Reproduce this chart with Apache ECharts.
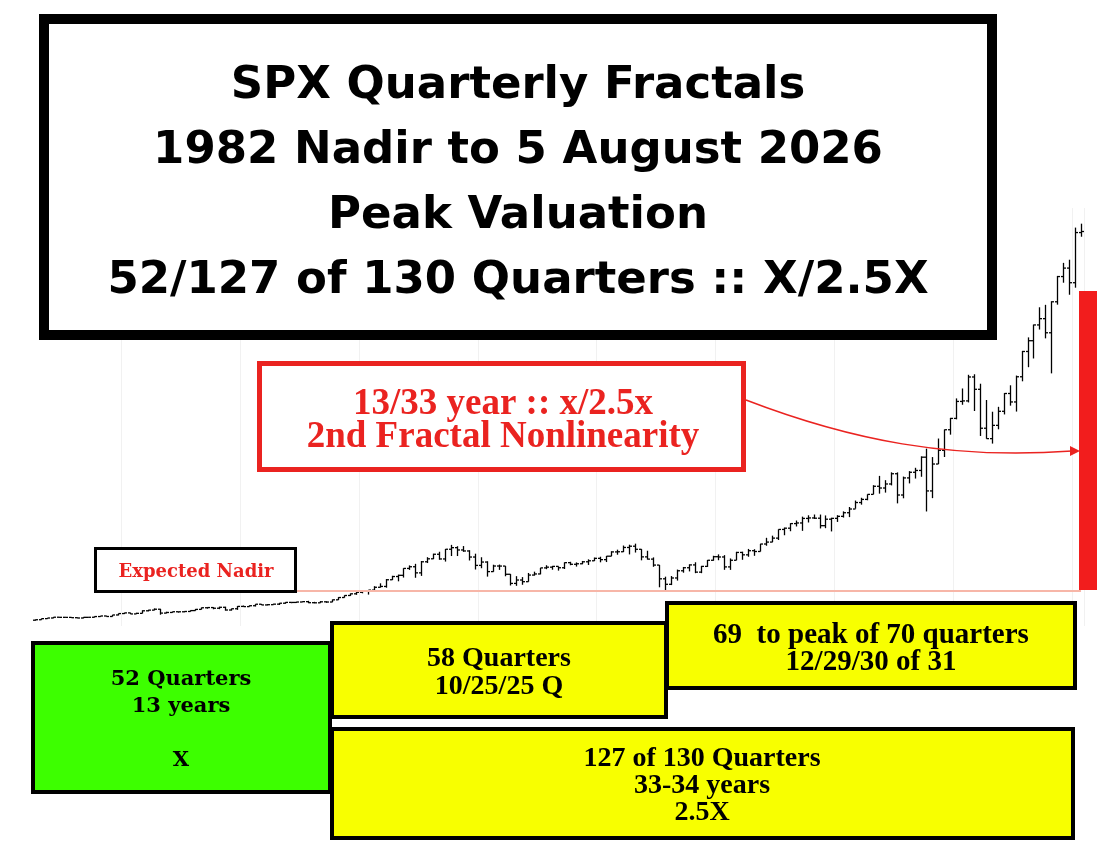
<!DOCTYPE html>
<html lang="en">
  <head>
    <meta charset="UTF-8" />
    <title>SPX Quarterly Fractals</title>
    <script src="https://cdn.jsdelivr.net/npm/echarts@6.0.0/dist/echarts.min.js"></script>
    <style>
      body { margin: 0; background: #fff; }
    </style>
  </head>
  <body>
    <div id="main" style="width: 1120px; height: 846px"></div>
    <script type="text/javascript">
      // quarterly bars, 1982 Q3 .. 2026 Q3 (one row per year)
      const firstYear = 1982;
      const firstQ = 3;

      const opens = [
        111, 120,
        141, 153, 168, 166,   165, 159, 153, 166,   167, 181, 192, 182,   211, 238, 251, 231,
        242, 291, 304, 321,   247, 259, 273, 272,   278, 295, 318, 349,   353, 340, 358, 306,
        330, 375, 371, 388,   417, 403, 408, 418,   436, 452, 451, 459,   466, 446, 444, 463,
        459, 501, 545, 584,   616, 645, 671, 687,   741, 757, 885, 947,   970, 1102, 1134, 1017,
        1229, 1286, 1373, 1283,   1469, 1499, 1455, 1436,   1320, 1160, 1224, 1041,   1148, 1147, 990, 815,
        880, 848, 975, 996,   1112, 1126, 1141, 1115,   1212, 1181, 1191, 1229,   1248, 1295, 1270, 1336,
        1418, 1421, 1503, 1527,   1468, 1323, 1280, 1166,   903, 798, 919, 1057,   1115, 1169, 1031, 1141,
        1258, 1326, 1321, 1131,   1258, 1408, 1362, 1441,   1426, 1569, 1606, 1682,   1848, 1872, 1960, 1972,
        2059, 2068, 2063, 1920,   2044, 2060, 2099, 2168,   2239, 2363, 2423, 2519,   2674, 2641, 2718, 2914,
        2507, 2834, 2942, 2977,   3231, 2585, 3100, 3363,   3756, 3973, 4298, 4308,   4766, 4530, 3785, 3586,
        3840, 4109, 4450, 4288,   4770, 5254, 5460, 5762,   5882, 5612, 6205, 6688,
        6850, 6570, 7530
      ];
      const highs = [
        124, 143,
        154, 171, 172, 173,   170, 163, 169, 170,   184, 192, 196, 212,   239, 254, 254, 254,
        301, 310, 337, 328,   273, 274, 275, 284,   300, 326, 354, 360,   360, 370, 369, 333,
        381, 392, 396, 418,   421, 419, 426, 441,   456, 454, 463, 471,   482, 463, 477, 473,
        507, 552, 587, 623,   664, 681, 690, 762,   817, 899, 961, 983,   1106, 1160, 1190, 1244,
        1317, 1384, 1421, 1474,   1553, 1527, 1530, 1450,   1384, 1316, 1239, 1173,   1176, 1147, 994, 954,
        936, 1015, 1040, 1112,   1163, 1150, 1141, 1218,   1229, 1217, 1245, 1276,   1310, 1326, 1340, 1431,
        1461, 1540, 1556, 1576,   1472, 1440, 1313, 1167,   944, 956, 1080, 1130,   1180, 1220, 1150, 1263,
        1344, 1371, 1356, 1293,   1420, 1422, 1475, 1470,   1573, 1688, 1729, 1850,   1884, 1968, 2019, 2093,
        2119, 2134, 2133, 2116,   2072, 2121, 2194, 2277,   2401, 2454, 2520, 2695,   2873, 2791, 2941, 2940,
        2860, 2964, 3028, 3247,   3394, 3233, 3588, 3760,   3983, 4356, 4546, 4808,   4818, 4637, 4325, 4101,
        4195, 4458, 4607, 4793,   5265, 5524, 5768, 6100,   6147, 6215, 6700, 6950,
        7010, 7625, 7700
      ];
      const lows = [
        102, 119,
        138, 149, 159, 160,   154, 149, 147, 160,   163, 176, 181, 180,   203, 229, 228, 230,
        242, 281, 301, 216,   243, 254, 256, 263,   275, 293, 316, 332,   320, 322, 294, 295,
        309, 367, 371, 374,   401, 395, 408, 402,   426, 436, 442, 457,   438, 435, 443, 444,
        457, 499, 544, 577,   597, 626, 601, 686,   737, 733, 881, 855,   927, 1074, 923, 959,
        1205, 1281, 1268, 1233,   1339, 1339, 1420, 1254,   1081, 1106, 945, 1038,   1074, 952, 775, 769,
        789, 847, 965, 990,   1087, 1077, 1060, 1091,   1163, 1137, 1183, 1168,   1245, 1219, 1224, 1336,
        1364, 1416, 1370, 1406,   1257, 1272, 1133, 741,   667, 783, 869, 1020,   1045, 1011, 1011, 1131,
        1250, 1259, 1075, 1074,   1259, 1267, 1325, 1343,   1426, 1536, 1604, 1646,   1737, 1814, 1905, 1821,
        1981, 2049, 1867, 1872,   1810, 1992, 2075, 2084,   2245, 2322, 2406, 2520,   2533, 2553, 2691, 2347,
        2444, 2729, 2822, 2856,   2192, 2447, 3101, 3234,   3662, 3955, 4234, 4279,   4115, 3637, 3584, 3491,
        3765, 4049, 4217, 4104,   4683, 4953, 5120, 5674,   5505, 4835, 6150, 6570,
        6340, 6475, 7450
      ];
      const closes = [
        120, 141,
        153, 168, 166, 165,   159, 153, 166, 167,   181, 192, 182, 211,   238, 251, 231, 242,
        291, 304, 321, 247,   259, 273, 272, 278,   295, 318, 349, 353,   340, 358, 306, 330,
        375, 371, 388, 417,   403, 408, 418, 436,   452, 451, 459, 466,   446, 444, 463, 459,
        501, 545, 584, 616,   645, 671, 687, 741,   757, 885, 947, 970,   1102, 1134, 1017, 1229,
        1286, 1373, 1283, 1469,   1499, 1455, 1436, 1320,   1160, 1224, 1041, 1148,   1147, 990, 815, 880,
        848, 975, 996, 1112,   1126, 1141, 1115, 1212,   1181, 1191, 1229, 1248,   1295, 1270, 1336, 1418,
        1421, 1503, 1527, 1468,   1323, 1280, 1166, 903,   798, 919, 1057, 1115,   1169, 1031, 1141, 1258,
        1326, 1321, 1131, 1258,   1408, 1362, 1441, 1426,   1569, 1606, 1682, 1848,   1872, 1960, 1972, 2059,
        2068, 2063, 1920, 2044,   2060, 2099, 2168, 2239,   2363, 2423, 2519, 2674,   2641, 2718, 2914, 2507,
        2834, 2942, 2977, 3231,   2585, 3100, 3363, 3756,   3973, 4298, 4308, 4766,   4530, 3785, 3586, 3840,
        4109, 4450, 4288, 4770,   5254, 5460, 5762, 5882,   5612, 6205, 6688, 6850,
        6570, 7530, 7550
      ];

      const nadirLevel = 667; // 2009 Q1 low
      const nadirFrom = 44;   // quarter index where the nadir line starts

      const quarters = [];
      for (let i = 0; i < closes.length; i++) {
        const q = firstQ - 1 + i;
        quarters.push(firstYear + Math.floor(q / 4) + " Q" + ((q % 4) + 1));
      }
      const bars = quarters.map((q, i) => [i, opens[i], highs[i], lows[i], closes[i]]);

      const serif = '"Liberation Serif", "DejaVu Serif", serif';
      const serifWide = '"DejaVu Serif", serif';
      const red = "#ea2320";

      function ohlc(params, api) {
        const i = api.value(0);
        const o = api.coord([i, api.value(1)]);
        const h = api.coord([i, api.value(2)]);
        const l = api.coord([i, api.value(3)]);
        const c = api.coord([i, api.value(4)]);
        const x = Math.round(h[0]) + 0.5;
        const st = { stroke: "#000", lineWidth: 1.3 };
        return {
          type: "group",
          children: [
            { type: "line", shape: { x1: x, y1: h[1], x2: x, y2: l[1] }, style: st },
            { type: "line", shape: { x1: x - 2.5, y1: o[1], x2: x, y2: o[1] }, style: st },
            { type: "line", shape: { x1: x, y1: c[1], x2: x + 2.5, y2: c[1] }, style: st },
          ],
        };
      }

      function box(x, y, w, h, fill, stroke, lw) {
        return {
          type: "rect", z: 100,
          shape: { x: x, y: y, width: w, height: h },
          style: { fill: fill, stroke: stroke, lineWidth: lw },
        };
      }
      function label(x, y, text, font, color, lh) {
        return {
          type: "text", z: 101,
          style: {
            x: x, y: y, text: text, font: font, fill: color,
            textAlign: "center", textVerticalAlign: "middle", lineHeight: lh,
          },
        };
      }

      const options = {
        animation: false,
        backgroundColor: "#fff",
        grid: { left: 32, right: 36, top: 208, bottom: 220 },
        xAxis: {
          type: "category",
          data: quarters,
          boundaryGap: true,
          axisLine: { show: false },
          axisTick: { show: false },
          axisLabel: { show: false },
          splitLine: {
            show: true,
            interval: (idx) => idx % 20 === 15,
            lineStyle: { color: "#f1f1f1", width: 1 },
          },
        },
        yAxis: {
          type: "value",
          min: 0,
          max: 8000,
          show: false,
          splitLine: { show: false },
        },
        series: [
          {
            type: "custom",
            renderItem: ohlc,
            data: bars,
            encode: { x: 0, y: [1, 2, 3, 4] },
            markLine: {
              silent: true,
              symbol: "none",
              label: { show: false },
              lineStyle: { color: "#f7b6a8", width: 2, type: "solid" },
              data: [[{ coord: [nadirFrom, nadirLevel] }, { coord: [quarters.length - 1, nadirLevel] }]],
            },
          },
        ],
        graphic: [
          // title
          box(44, 19, 948, 316, "#fff", "#000", 10),
          label(518, 184,
            "SPX Quarterly Fractals\n1982 Nadir to 5 August 2026\nPeak Valuation\n52/127 of 130 Quarters :: X/2.5X",
            'bold 45px "DejaVu Sans", sans-serif', "#000", 65),
          // red note + arrow
          box(259.5, 363.5, 484, 106, "#fff", red, 5),
          label(503, 421, "13/33 year :: x/2.5x\n2nd Fractal Nonlinearity", "bold 37px " + serif, red, 33),
          {
            type: "bezierCurve", z: 99,
            shape: { x1: 746, y1: 400, cpx1: 850, cpy1: 440, cpx2: 950, cpy2: 460, x2: 1072, y2: 451 },
            style: { stroke: red, lineWidth: 1.5, fill: null },
          },
          {
            type: "polygon", z: 99,
            shape: { points: [[1070, 446], [1080, 451], [1070, 456]] },
            style: { fill: red },
          },
          {
            type: "rect", z: 98,
            shape: { x: 1079, y: 291, width: 18, height: 299 },
            style: { fill: "#f21d1d" },
          },
          // expected nadir
          box(95.5, 548.5, 200, 43, "#fff", "#000", 3),
          label(196, 572, "Expected Nadir", "bold 18px " + serifWide, red, 20),
          // quarter boxes
          box(33, 643, 297, 149, "#3dff00", "#000", 4),
          label(181, 720, "52 Quarters\n13 years\n\nX", "bold 21px " + serifWide, "#000", 27),
          box(332, 729, 741, 109, "#f8ff00", "#000", 4),
          label(702, 786, "127 of 130 Quarters\n33-34 years\n2.5X", "bold 28px " + serif, "#000", 27),
          box(332, 623, 334, 94, "#f8ff00", "#000", 4),
          label(499, 673, "58 Quarters\n10/25/25 Q", "bold 28px " + serif, "#000", 28),
          box(667, 603, 408, 85, "#f8ff00", "#000", 4),
          label(871, 649, "69  to peak of 70 quarters\n12/29/30 of 31", "bold 29px " + serif, "#000", 27),
        ],
      };

      let myChart = echarts.init(document.getElementById("main"));
      myChart.setOption(options);
    </script>
  </body>
</html>
